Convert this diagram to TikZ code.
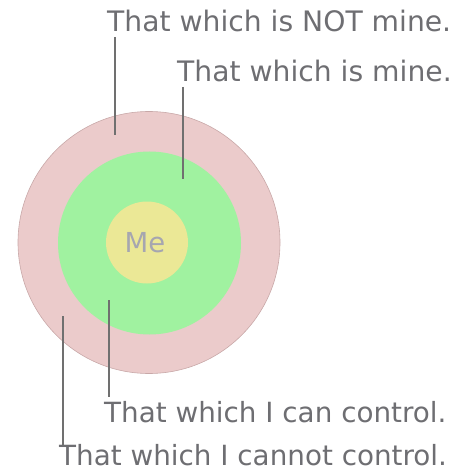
\documentclass[tikz,border=0pt]{standalone}
\usepackage{fontspec}
\setmainfont{DejaVu Sans}
\definecolor{pinkc}{HTML}{EBCBCB}
\definecolor{pinkb}{HTML}{C8A8A8}
\definecolor{greenc}{HTML}{A0F2A0}
\definecolor{yellowc}{HTML}{EBE896}
\definecolor{txt}{HTML}{6E6E72}
\definecolor{metxt}{HTML}{A6A6B0}
\definecolor{ln}{HTML}{707070}
\begin{document}
\begin{tikzpicture}[x=1pt,y=-1pt,
  lbl/.style={anchor=base west,inner sep=0pt,text=txt,font=\fontsize{28.2}{30}\selectfont},
  lbls/.style={lbl,font=\fontsize{27.8}{30}\selectfont},
  leader/.style={draw=ln,line width=2pt}]
\useasboundingbox (0,0) rectangle (455,473);
\fill[pinkc,draw=pinkb,line width=0.6pt] (149,242.5) circle (131);
\fill[greenc] (149.5,243) circle (91.5);
\fill[yellowc] (147,242.5) circle (41);
\node[anchor=base,inner sep=0pt,text=metxt,font=\fontsize{27.5}{30}\selectfont] (me) at (145,252) {Me};
\node[lbl] (notmine) at (107,32) {That which is NOT mine.};
\node[lbl] (mine) at (177,82) {That which is mine.};
\node[lbls] (can) at (104,422) {That which I can control.};
\node[lbls] (cannot) at (59,465) {That which I cannot control.};
\coordinate (a1) at (115,37); \coordinate (a2) at (115,135);
\coordinate (b1) at (183,87); \coordinate (b2) at (183,179);
\coordinate (c1) at (109,300); \coordinate (c2) at (109,397);
\coordinate (d1) at (63,316); \coordinate (d2) at (63,445);
\draw[leader] (a1) -- (a2);
\draw[leader] (b1) -- (b2);
\draw[leader] (c1) -- (c2);
\draw[leader] (d1) -- (d2);
\end{tikzpicture}
\end{document}
